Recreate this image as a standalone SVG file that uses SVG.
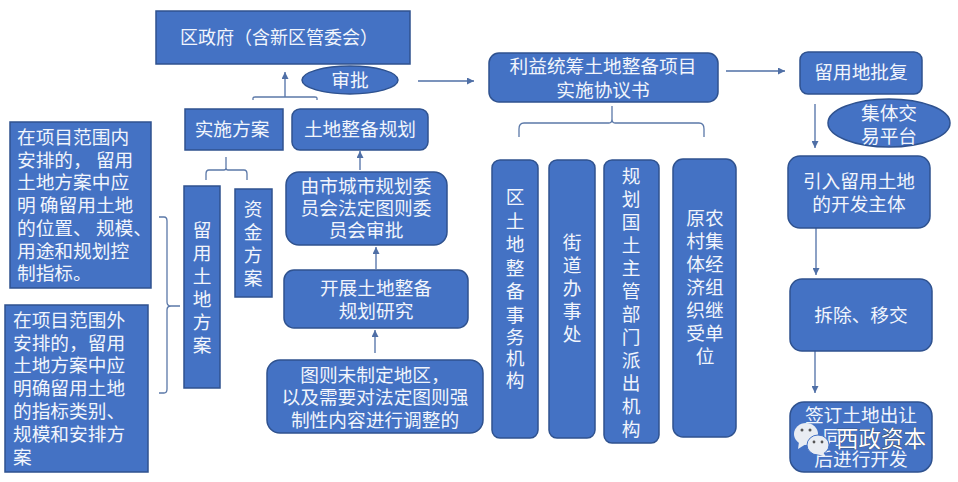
<svg xmlns="http://www.w3.org/2000/svg" width="958" height="482" viewBox="0 0 958 482">
<style>
.b{fill:#4472c4;stroke:#2f528f;stroke-width:1.5}
text{font-family:"Noto Sans CJK SC","Liberation Sans",sans-serif;font-size:18.7px;fill:#f1f5fc;text-anchor:middle}
.l{text-anchor:start;font-size:18.7px}
.c{fill:none;stroke:#5b78a8;stroke-width:1.3}
.a{fill:none;stroke:#4f6fa6;stroke-width:1.3;marker-end:url(#m)}
.wm{font-size:22.5px;fill:#fff;stroke:#333;stroke-width:.6;paint-order:stroke}
</style>
<defs><marker id="m" markerWidth="8" markerHeight="7" refX="7" refY="3.5" orient="auto" markerUnits="userSpaceOnUse"><path d="M0 0L7 3.5L0 7Z" fill="#4f6fa6"/></marker></defs>
<rect width="958" height="482" fill="#fff"/>
<g id="connectors">
<path class="a" d="M285 97V72"/>
<path class="c" d="M253 100V98Q253 97 255 97H315Q317 97 317 98V100"/>
<path class="a" d="M360 170V151"/>
<path class="a" d="M418 81H474"/>
<path class="a" d="M726 71H785"/>
<path class="a" d="M815 104V148"/>
<path class="a" d="M816 228V275"/>
<path class="a" d="M815 351V393"/>
<path class="a" d="M376 269V247"/>
<path class="a" d="M375 353V330"/>
<path class="c" d="M226 157V168Q226 170 224 170H209Q206 170 206 174V180M226 168Q226 170 228 170H244Q247 170 247 174V180"/>
<path class="c" d="M159 217H164Q167 217 167 221V302Q167 306 171 306H180M171 306Q167 306 167 310V389Q167 393 164 393H159"/>
<path class="c" d="M612 106V119Q612 123 609 123H524Q519 123 519 129V137M612 119Q612 123 615 123H699Q704 123 704 129V137"/>
</g>
<g id="n1"><rect class="b" x="156" y="11" width="254" height="53"/><text x="279" y="44" style="font-size:18px">区政府（含新区管委会）</text></g>
<g id="n2"><ellipse class="b" cx="350" cy="80" rx="48" ry="14"/><text x="350" y="87">审批</text></g>
<g id="n3"><rect class="b" x="185" y="109" width="98" height="41"/><text x="232" y="136">实施方案</text></g>
<g id="n4"><rect class="b" x="292" y="109" width="136" height="41" rx="8"/><text x="360" y="136">土地整备规划</text></g>
<g id="n5"><rect class="b" x="286" y="172" width="161" height="73" rx="13"/><text><tspan x="366" y="193">由市城市规划委</tspan><tspan x="366" y="215">员会法定图则委</tspan><tspan x="366" y="237">员会审批</tspan></text></g>
<g id="n6"><rect class="b" x="284" y="270" width="184" height="58" rx="10"/><text><tspan x="376" y="295">开展土地整备</tspan><tspan x="376" y="318">规划研究</tspan></text></g>
<g id="n7"><rect class="b" x="267" y="360" width="216" height="73" rx="13"/><text><tspan x="375" y="382">图则未制定地区，</tspan><tspan x="375" y="404">以及需要对法定图则强</tspan><tspan x="375" y="427">制性内容进行调整的</tspan></text></g>
<g id="n8"><rect class="b" x="184" y="186" width="36" height="202"/><text><tspan x="202" y="237">留</tspan><tspan x="202" y="260">用</tspan><tspan x="202" y="283">土</tspan><tspan x="202" y="306">地</tspan><tspan x="202" y="329">方</tspan><tspan x="202" y="352">案</tspan></text></g>
<g id="n9"><rect class="b" x="235" y="189" width="37" height="108"/><text><tspan x="253" y="216">资</tspan><tspan x="253" y="239">金</tspan><tspan x="253" y="262">方</tspan><tspan x="253" y="285">案</tspan></text></g>
<g id="n10"><rect class="b" x="10" y="122" width="141" height="166"/>
<text class="l"><tspan x="17" y="144">在项目范围内</tspan><tspan x="17" y="167">安排的， 留用</tspan><tspan x="17" y="189">土地方案中应</tspan><tspan x="17" y="212">明 确留用土地</tspan><tspan x="17" y="235">的位置、 规模、</tspan><tspan x="17" y="258">用途和规划控</tspan><tspan x="17" y="280">制指标。</tspan></text></g>
<g id="n11"><rect class="b" x="5" y="305" width="143" height="167"/>
<text class="l"><tspan x="13" y="327">在项目范围外</tspan><tspan x="13" y="350">安排的，留用</tspan><tspan x="13" y="372">土地方案中应</tspan><tspan x="13" y="395">明确留用土地</tspan><tspan x="13" y="418">的指标类别、</tspan><tspan x="13" y="441">规模和安排方</tspan><tspan x="13" y="464">案</tspan></text></g>
<g id="n12"><rect class="b" x="489" y="53" width="229" height="49" rx="10"/><text><tspan x="603" y="73">利益统筹土地整备项目</tspan><tspan x="603" y="97">实施协议书</tspan></text></g>
<g id="n13"><rect class="b" x="492" y="160" width="46" height="278" rx="8"/><text><tspan x="515" y="204">区</tspan><tspan x="515" y="228">土</tspan><tspan x="515" y="251">地</tspan><tspan x="515" y="275">整</tspan><tspan x="515" y="298">备</tspan><tspan x="515" y="322">事</tspan><tspan x="515" y="344">务</tspan><tspan x="515" y="365">机</tspan><tspan x="515" y="387">构</tspan></text></g>
<g id="n14"><rect class="b" x="549" y="160" width="46" height="278" rx="8"/><text><tspan x="572" y="249">街</tspan><tspan x="572" y="272">道</tspan><tspan x="572" y="295">办</tspan><tspan x="572" y="318">事</tspan><tspan x="572" y="341">处</tspan></text></g>
<g id="n15"><rect class="b" x="604" y="160" width="55" height="283" rx="8"/><text><tspan x="631" y="183">规</tspan><tspan x="631" y="206">划</tspan><tspan x="631" y="229">国</tspan><tspan x="631" y="252">土</tspan><tspan x="631" y="275">主</tspan><tspan x="631" y="298">管</tspan><tspan x="631" y="321">部</tspan><tspan x="631" y="344">门</tspan><tspan x="631" y="367">派</tspan><tspan x="631" y="390">出</tspan><tspan x="631" y="413">机</tspan><tspan x="631" y="436">构</tspan></text></g>
<g id="n16"><rect class="b" x="673" y="159" width="63" height="278" rx="10"/><text><tspan x="705" y="225">原农</tspan><tspan x="705" y="248">村集</tspan><tspan x="705" y="271">体经</tspan><tspan x="705" y="294">济组</tspan><tspan x="705" y="317">织继</tspan><tspan x="705" y="340">受单</tspan><tspan x="705" y="363">位</tspan></text></g>
<g id="n17"><rect class="b" x="800" y="52" width="122" height="42" rx="8"/><text x="861" y="79">留用地批复</text></g>
<g id="n18"><ellipse class="b" cx="889" cy="123" rx="61" ry="24"/><text><tspan x="889" y="120">集体交</tspan><tspan x="889" y="143">易平台</tspan></text></g>
<g id="n19"><rect class="b" x="788" y="156" width="142" height="72" rx="12"/><text><tspan x="859" y="188">引入留用土地</tspan><tspan x="859" y="211">的开发主体</tspan></text></g>
<g id="n20"><rect class="b" x="790" y="279" width="142" height="72" rx="12"/><text x="861" y="322">拆除、移交</text></g>
<g id="n21"><rect class="b" x="790" y="402" width="142" height="70" rx="14"/><text><tspan x="861" y="422">签订土地出让</tspan><tspan x="832" y="444">同</tspan><tspan x="861" y="466">后进行开发</tspan></text></g>
<g id="watermark">
<ellipse cx="806" cy="434" rx="12" ry="11" fill="#e9edf3"/><path d="M799 442L798 449L806 444Z" fill="#e9edf3"/>
<circle cx="802" cy="430" r="1.5" fill="#555"/><circle cx="810" cy="430" r="1.5" fill="#555"/>
<ellipse cx="818" cy="445" rx="11" ry="10" fill="#e9edf3" stroke="#4472c4"/><path d="M823 452L826 457L817 454Z" fill="#e9edf3"/>
<circle cx="814" cy="442" r="1.4" fill="#555"/><circle cx="822" cy="442" r="1.4" fill="#555"/>
<text class="wm" x="881" y="447">西政资本</text>
</g>
</svg>
